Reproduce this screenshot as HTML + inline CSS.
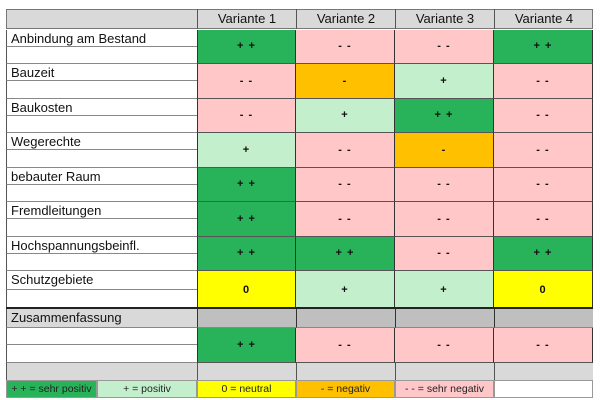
<!DOCTYPE html>
<html><head><meta charset="utf-8"><style>
body{margin:0;width:600px;height:400px;background:#fff;position:relative;overflow:hidden;font-family:"Liberation Sans",sans-serif}
.a{position:absolute;box-sizing:border-box}
.c{display:flex;align-items:center;justify-content:center;font-size:11px;font-weight:bold;color:#111;border-right:1px solid #333;border-bottom:1px solid #555;letter-spacing:1px}
.l{font-size:13px;color:#111;padding-left:4px;line-height:17px;border-bottom:1px solid #888}
.G{background:#28b35a}.g{background:#c3efcc}.y{background:#ffff00}.o{background:#ffc000}.r{background:#ffc7c7}
</style></head><body>
<div id="t"></div>
<script>
var X=[197,296,395,494,593];
var h='';
h+='<div class="a" style="left:6px;top:9px;width:587px;height:20px;background:#d9d9d9;border:1px solid #777"></div>';
['Variante 1','Variante 2','Variante 3','Variante 4'].forEach(function(s,i){h+='<div class="a" style="left:'+X[i]+'px;top:9px;width:'+(X[i+1]-X[i])+'px;height:20px;border-left:1px solid #555;font-size:13px;text-align:center;line-height:20px;color:#111">'+s+'</div>';});
var rows=[['Anbindung am Bestand','G+ +','r- -','r- -','G+ +'],['Bauzeit','r- -','o-','g+','r- -'],['Baukosten','r- -','g+','G+ +','r- -'],['Wegerechte','g+','r- -','o-','r- -'],['bebauter Raum','G+ +','r- -','r- -','r- -'],['Fremdleitungen','G+ +','r- -','r- -','r- -'],['Hochspannungsbeinfl.','G+ +','G+ +','r- -','G+ +'],['Schutzgebiete','y0','g+','g+','y0']];
var y=29.5;
rows.forEach(function(r,k){var hh=(k==7?38.5:34.5);
h+='<div class="a l" style="left:6px;top:'+y+'px;width:191px;height:'+(hh/2)+'px;border-left:1px solid #555">'+r[0]+'</div>';
h+='<div class="a" style="left:6px;top:'+(y+hh/2)+'px;width:191px;height:'+(hh/2)+'px;border-left:1px solid #555;border-bottom:1px solid #888"></div>';
for(var i=0;i<4;i++){var v=r[i+1];h+='<div class="a c '+v[0]+'" style="left:'+X[i]+'px;top:'+y+'px;width:'+(X[i+1]-X[i])+'px;height:'+hh+'px;border-left:'+(i==0?'1px solid #333':'0')+'">'+v.slice(1)+'</div>';}
y+=hh;});
h+='<div class="a" style="left:6px;top:307px;width:587px;height:2px;background:#222"></div>';
h+='<div class="a l" style="left:6px;top:309px;width:191px;height:19px;background:#d9d9d9;border-left:1px solid #555">Zusammenfassung</div>';
for(var i=0;i<4;i++){h+='<div class="a" style="left:'+X[i]+'px;top:309px;width:'+(X[i+1]-X[i])+'px;height:19px;background:#bfbfbf;border-left:1px solid #333;border-bottom:1px solid #888"></div>';}
h+='<div class="a" style="left:6px;top:328px;width:191px;height:17px;border-left:1px solid #555;border-bottom:1px solid #888"></div>';
h+='<div class="a" style="left:6px;top:345px;width:191px;height:18px;border-left:1px solid #555;border-bottom:1px solid #888"></div>';
['G+ +','r- -','r- -','r- -'].forEach(function(v,i){h+='<div class="a c '+v[0]+'" style="left:'+X[i]+'px;top:328px;width:'+(X[i+1]-X[i])+'px;height:35px;border-left:'+(i==0?'1px solid #333':'0')+'">'+v.slice(1)+'</div>';});
h+='<div class="a" style="left:6px;top:363px;width:587px;height:17px;background:#d9d9d9;border-left:1px solid #555"></div>';
for(var i=0;i<4;i++){h+='<div class="a" style="left:'+X[i]+'px;top:363px;width:1px;height:17px;background:#555"></div>';}
var L=[[6,97,'#28b35a','+ + = sehr positiv'],[97,197,'#c3efcc','+ = positiv'],[197,296,'#ffff00','0 = neutral'],[296,395,'#ffc000','- = negativ'],[395,494,'#ffc7c7','- - = sehr negativ'],[494,593,'#fff','']];
L.forEach(function(e){h+='<div class="a" style="left:'+e[0]+'px;top:380px;width:'+(e[1]-e[0])+'px;height:18px;background:'+e[2]+';border:1px solid #999;font-size:10.5px;text-align:center;line-height:16px;color:#222">'+e[3]+'</div>';});
document.getElementById('t').innerHTML=h;
</script>
</body></html>
